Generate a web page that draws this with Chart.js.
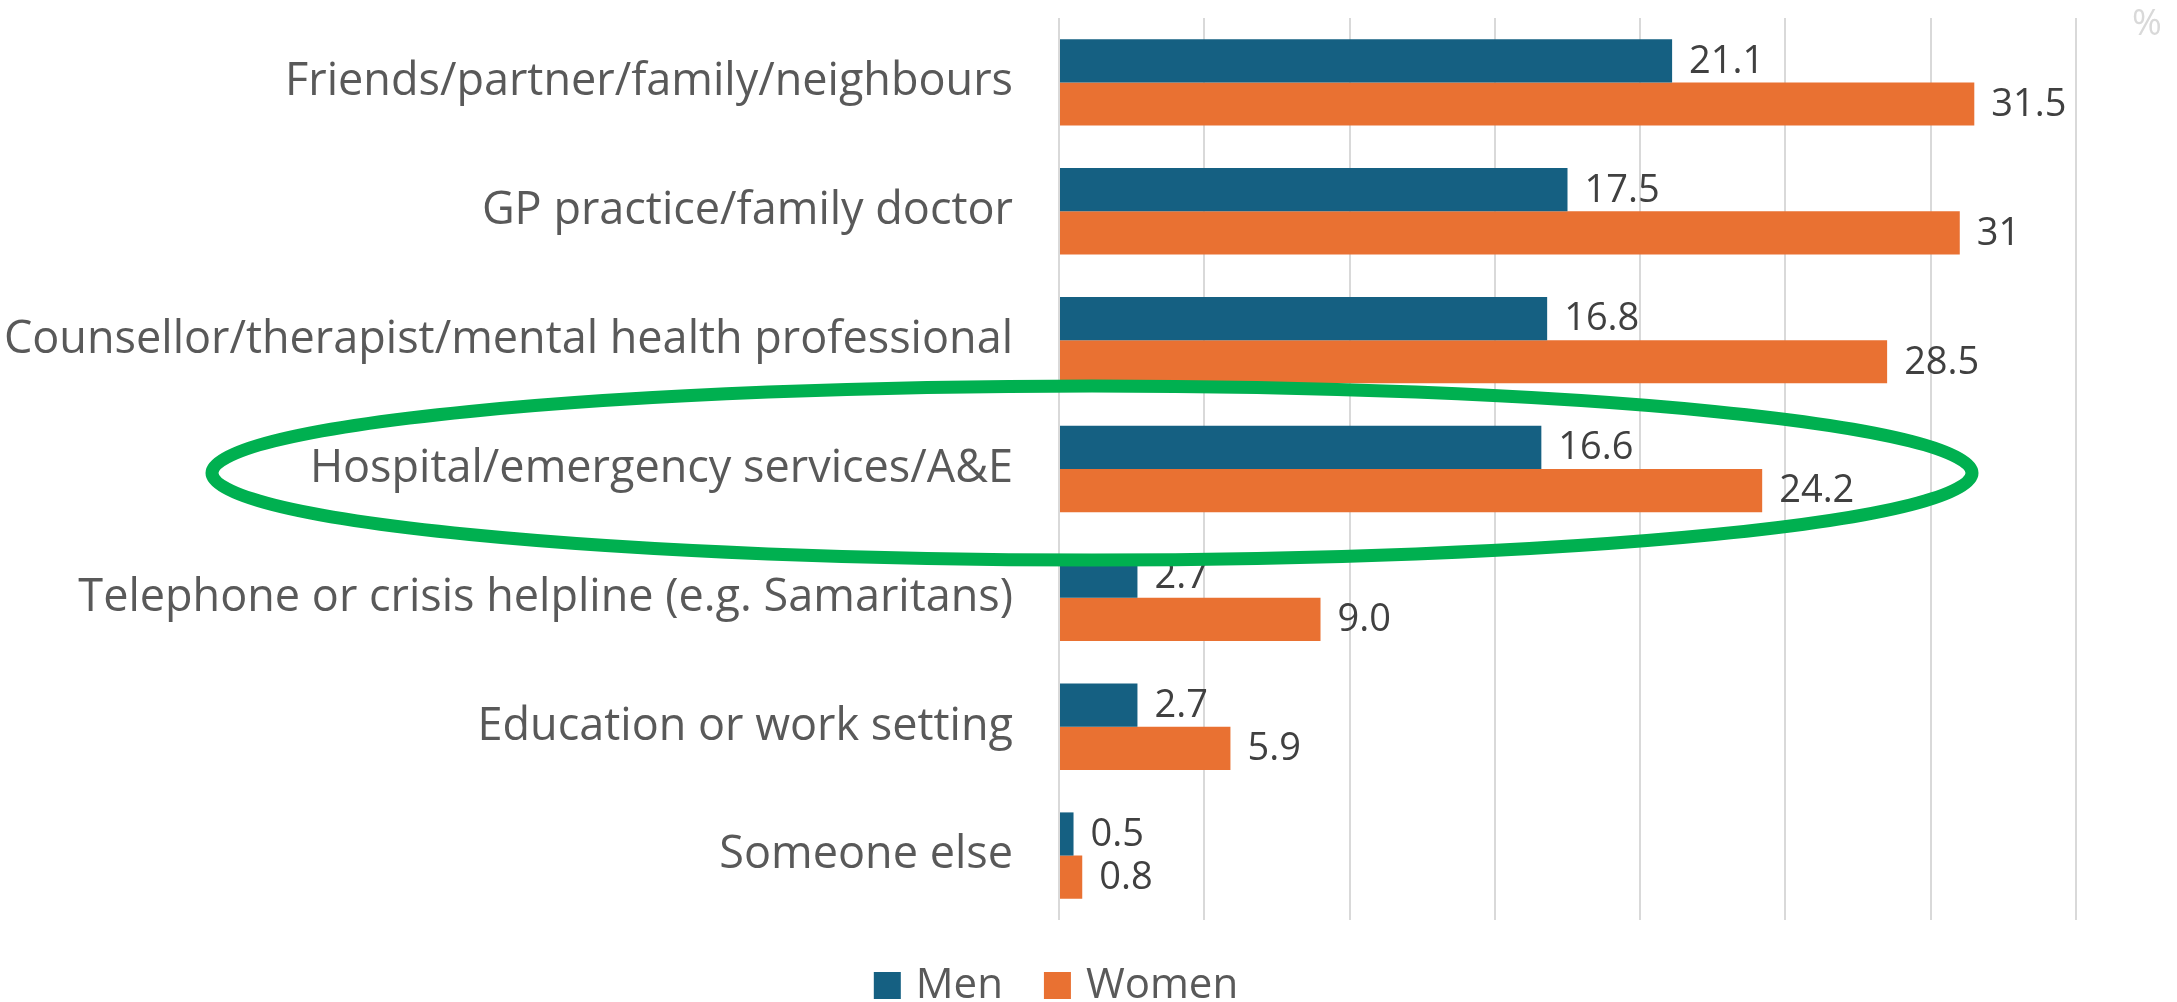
<!DOCTYPE html>
<html>
<head>
<meta charset="utf-8">
<title>Who people turned to</title>
<script src="https://cdn.jsdelivr.net/npm/chart.js@4.4.1/dist/chart.umd.min.js"></script>
<style>
  html, body { margin: 0; padding: 0; background: #ffffff; }
  canvas { display: block; }
</style>
</head>
<body>
<canvas id="helpChart" width="2177" height="1002"></canvas>
<script>
// datos del gráfico
const categories = [
    'Friends/partner/family/neighbours',
    'GP practice/family doctor',
    'Counsellor/therapist/mental health professional',
    'Hospital/emergency services/A&E',
    'Telephone or crisis helpline (e.g. Samaritans)',
    'Education or work setting',
    'Someone else'
];
const menValues = [21.1, 17.5, 16.8, 16.6, 2.7, 2.7, 0.5];
const womenValues = [31.5, 31, 28.5, 24.2, 9.0, 5.9, 0.8];
// etiquetas tal como aparecen junto a las barras
const menLabels = ['21.1', '17.5', '16.8', '16.6', '2.7', '2.7', '0.5'];
const womenLabels = ['31.5', '31', '28.5', '24.2', '9.0', '5.9', '0.8'];
const seriesNames = ['Men', 'Women'];
const xTicks = { min: 0, max: 35, step: 5 };
const unitLabel = '%';

const FONT = "'Open Sans', 'Noto Sans', sans-serif";
const MEN_COLOR = '#156082';
const WOMEN_COLOR = '#E97132';

// etiquetas de valor al final de cada barra
const valueLabels = {
    id: 'valueLabels',
    afterDatasetsDraw(chart) {
        const ctx = chart.ctx;
        ctx.save();
        ctx.font = `38px ${FONT}`;
        ctx.fillStyle = '#404040';
        ctx.textAlign = 'left';
        ctx.textBaseline = 'middle';
        chart.data.datasets.forEach((ds, i) => {
            const meta = chart.getDatasetMeta(i);
            meta.data.forEach((bar, j) => {
                ctx.fillText(ds.valueText[j], bar.x + 17, bar.y + 1);
            });
        });
        ctx.restore();
    }
};

// leyenda, unidad y elipse verde de resaltado
const extras = {
    id: 'extras',
    afterDraw(chart) {
        const ctx = chart.ctx;
        const area = chart.chartArea;
        const yScale = chart.scales.y;
        ctx.save();

        // unidad arriba a la derecha
        ctx.font = `36px ${FONT}`;
        ctx.fillStyle = '#d9d9d9';
        ctx.textAlign = 'left';
        ctx.textBaseline = 'alphabetic';
        ctx.fillText(unitLabel, area.right + 56, 35);

        // elipse alrededor de la categoría de hospital
        const cy = yScale.getPixelForValue(3) + 4;
        ctx.beginPath();
        ctx.ellipse(area.left + 33, cy, 880, 87, 0, 0, Math.PI * 2);
        ctx.strokeStyle = '#00B050';
        ctx.lineWidth = 13;
        ctx.stroke();

        // leyenda inferior
        ctx.font = `42px ${FONT}`;
        ctx.textBaseline = 'middle';
        const box = 27, gap = 15, between = 41;
        const widths = chart.data.datasets.map(ds => box + gap + ctx.measureText(ds.label).width);
        const total = widths.reduce((a, b) => a + b, 0) + between * (widths.length - 1);
        let x = 1056 - total / 2;
        const boxTop = 972;
        chart.data.datasets.forEach((ds, i) => {
            ctx.fillStyle = ds.backgroundColor;
            ctx.fillRect(x, boxTop, box, box);
            ctx.fillStyle = '#595959';
            ctx.fillText(ds.label, x + box + gap, boxTop + box / 2 + 1);
            x += widths[i] + between;
        });

        ctx.restore();
    }
};

const ctx = document.getElementById('helpChart').getContext('2d');
new Chart(ctx, {
    type: 'bar',
    data: {
        labels: categories,
        datasets: [
            {
                label: seriesNames[0],
                data: menValues,
                valueText: menLabels,
                backgroundColor: MEN_COLOR,
                borderWidth: 0
            },
            {
                label: seriesNames[1],
                data: womenValues,
                valueText: womenLabels,
                backgroundColor: WOMEN_COLOR,
                borderWidth: 0
            }
        ]
    },
    options: {
        indexAxis: 'y',
        responsive: false,
        animation: false,
        devicePixelRatio: 1,
        datasets: {
            bar: {
                categoryPercentage: 0.67,
                barPercentage: 1.0
            }
        },
        layout: {
            padding: { top: 18, right: 101, bottom: 82, left: 0 }
        },
        plugins: {
            legend: { display: false },
            tooltip: { enabled: false }
        },
        scales: {
            x: {
                min: xTicks.min,
                max: xTicks.max,
                ticks: { stepSize: xTicks.step, display: false },
                grid: {
                    color: '#d9d9d9',
                    lineWidth: 2,
                    drawTicks: false
                },
                border: { display: false }
            },
            y: {
                ticks: {
                    padding: 46,
                    color: '#595959',
                    font: { size: 45, family: FONT }
                },
                grid: { display: false, drawTicks: false },
                border: { display: false },
                afterFit(scale) {
                    scale.width = 1059;
                    // sin margen extra arriba/abajo por las etiquetas
                    scale.paddingTop = 0;
                    scale.paddingBottom = 0;
                }
            }
        }
    },
    plugins: [valueLabels, extras]
});
</script>
</body>
</html>
